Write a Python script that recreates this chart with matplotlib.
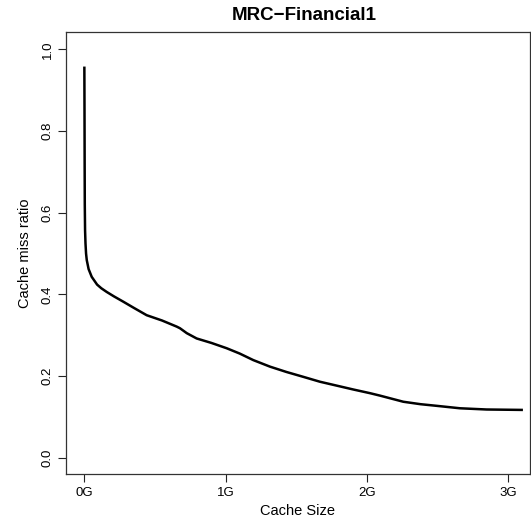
import matplotlib
matplotlib.use("Agg")
import matplotlib.pyplot as plt

plt.rcParams['font.family'] = ['Liberation Sans', 'DejaVu Sans']

# cache size in GB and miss ratio
cache_size = [0.0, 0.001, 0.002, 0.003, 0.005, 0.008, 0.012, 0.017, 0.030, 0.052,
              0.09, 0.12, 0.158, 0.21, 0.276, 0.35, 0.441, 0.55, 0.654, 0.677,
              0.725, 0.795, 0.90, 1.008, 1.10, 1.196, 1.314, 1.43, 1.550, 1.668,
              1.78, 1.904, 2.022, 2.093, 2.258, 2.38, 2.494, 2.659, 2.848, 3.096]
miss_ratio = [0.955, 0.85, 0.72, 0.62, 0.557, 0.525, 0.50, 0.484, 0.462, 0.443,
              0.424, 0.415, 0.406, 0.395, 0.382, 0.367, 0.349, 0.336, 0.321, 0.317,
              0.305, 0.292, 0.281, 0.268, 0.255, 0.239, 0.223, 0.210, 0.198, 0.186,
              0.177, 0.167, 0.158, 0.152, 0.137, 0.131, 0.127, 0.121, 0.118, 0.117]
x_ticks = [0, 1, 2, 3]
x_labels = ["0G", "1G", "2G", "3G"]
y_ticks = [0.0, 0.2, 0.4, 0.6, 0.8, 1.0]
y_labels = ["0.0", "0.2", "0.4", "0.6", "0.8", "1.0"]

fig = plt.figure(figsize=(5.31, 5.17), dpi=100)
ax = fig.add_axes([66 / 531, 43 / 517, 464 / 531, 441.7 / 517])

ax.plot(cache_size, miss_ratio, color="black", linewidth=1.8, solid_joinstyle="round")

ax.set_xlim(-0.13, 3.155)
ax.set_ylim(-0.04, 1.042)
ax.set_xticks(x_ticks)
ax.set_xticklabels(x_labels)
ax.set_yticks(y_ticks)
ax.set_yticklabels(y_labels, rotation=90, va="center")
ax.tick_params(axis="both", length=6, width=0.8, labelsize=9.5, pad=3, color="#222222")

for sp in ax.spines.values():
    sp.set_linewidth(0.9)
    sp.set_color("#333333")

ax.set_xlabel("Cache Size", fontsize=10.5, labelpad=4)
ax.set_ylabel("Cache miss ratio", fontsize=10.5, labelpad=7)
ax.set_title("MRC\u2212Financial1", fontsize=13.5, fontweight="bold", pad=9, x=0.514)

plt.savefig("out.png", dpi=100)
